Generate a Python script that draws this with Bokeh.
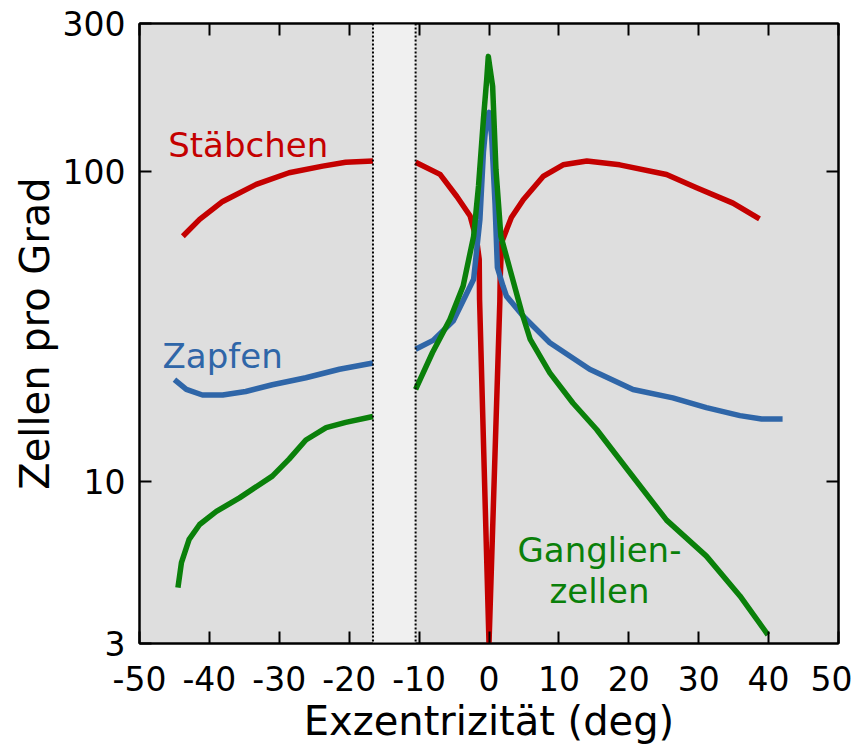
from bokeh.plotting import figure
from bokeh.models import (Range1d, LinearAxis, LogAxis, FixedTicker, PrintfTickFormatter,
                          BoxAnnotation, Span, CustomLabelingPolicy)
from bokeh.core.properties import value
from bokeh.embed import file_html
from bokeh.resources import INLINE

# ---------------- data ----------------
x_ticks = [-50, -40, -30, -20, -10, 0, 10, 20, 30, 40, 50]
y_ticks = [3, 10, 100, 300]
blind_spot = [-16.6, -10.5]

# Stäbchen (rods)
rod_left_x = [-43.8, -41.4, -38.1, -33.3, -28.6, -23.8, -20.5, -16.6]
rod_left_y = [61.8, 70, 80, 90.8, 99, 104, 107, 108]
rod_right_x = [-10.5, -7.0, -4.6, -2.7, -1.76, -1.4, -1.35, 0.0, 1.55, 1.6, 1.8, 3.2, 4.9,
               7.8, 10.6, 14.0, 18.7, 25.4, 29.7, 34.9, 38.7]
rod_right_y = [107, 97.8, 83, 71.8, 60, 52, 38.6, 3.0, 38, 45, 59, 71, 81,
               96.6, 105, 108, 105, 97.7, 88.5, 79, 70.3]

# Zapfen (cones)
cone_left_x = [-45.0, -43.3, -41.0, -38.1, -34.8, -31.0, -26.2, -21.4, -16.6]
cone_left_y = [21.3, 19.8, 19.0, 19.0, 19.5, 20.5, 21.6, 23.0, 24.1]
cone_right_x = [-10.5, -8.0, -5.1, -2.2, -1.3, -0.8, -0.33, 0.0, 0.38, 0.86, 1.2, 2.0, 2.5,
                4.9, 8.7, 14.4, 20.6, 26.3, 31.1, 35.9, 39.0, 42.0]
cone_right_y = [26.7, 28.5, 33.0, 44.9, 70, 115, 150, 155, 130, 79, 49, 42.7, 39.6,
                34.1, 28.0, 23.0, 19.8, 18.6, 17.3, 16.3, 15.9, 15.9]

# Ganglienzellen (ganglion cells)
gang_left_x = [-44.5, -44.0, -42.9, -41.4, -39.0, -35.7, -31.0, -28.6, -26.2, -23.3, -20.5, -16.6]
gang_left_y = [4.54, 5.47, 6.5, 7.26, 8.0, 8.85, 10.4, 11.8, 13.6, 14.9, 15.5, 16.2]
gang_right_x = [-10.5, -8.1, -5.6, -3.7, -2.2, -1.5, -0.8, -0.33, -0.1, 0.52, 1.0, 1.7,
                3.0, 4.7, 5.9, 8.7, 12.0, 15.4, 20.1, 25.4, 31.1, 35.9, 39.9]
gang_right_y = [19.8, 26, 33.3, 42.7, 61.8, 89.7, 147, 198, 235, 188, 101, 61.8,
                48.3, 35, 28.7, 22.4, 17.9, 14.7, 10.7, 7.5, 5.74, 4.27, 3.2]

labels = ["Stäbchen", "Zapfen", "Ganglien-", "zellen"]

RED = "#c40000"
BLUE = "#2f66a8"
GREEN = "#0a800a"
FONT = "DejaVu Sans"

p = figure(width=852, height=746, x_range=Range1d(-50, 50), y_range=Range1d(3, 300),
           y_axis_type="log", output_backend="svg", toolbar_location=None,
           min_border_left=139, min_border_top=23, min_border_right=14, min_border_bottom=100)

p.background_fill_color = "#dedede"
p.border_fill_color = "white"
p.outline_line_color = "black"
p.outline_line_width = 2
p.grid.visible = False

# blind spot band
p.add_layout(BoxAnnotation(left=blind_spot[0], right=blind_spot[1], fill_color="#f0f0f0",
                           fill_alpha=1.0, line_color=None, level="underlay"))
for loc in blind_spot:
    p.add_layout(Span(location=loc, dimension="height", line_color="black",
                      line_width=2, line_dash="2 2"))

lw = 5.5
for xs, ys, c in [(rod_left_x, rod_left_y, RED), (rod_right_x, rod_right_y, RED),
                  (cone_left_x, cone_left_y, BLUE), (cone_right_x, cone_right_y, BLUE),
                  (gang_left_x, gang_left_y, GREEN), (gang_right_x, gang_right_y, GREEN)]:
    p.line(xs, ys, line_color=c, line_width=lw, line_join="round")

# curve labels
p.text(x=[-45.9], y=[121.4], text=[labels[0]], text_color=RED, text_font=value(FONT),
       text_font_size="34px", text_align="left", text_baseline="alphabetic")
p.text(x=[-46.7], y=[25.3], text=[labels[1]], text_color=BLUE, text_font=value(FONT),
       text_font_size="34px", text_align="left", text_baseline="alphabetic")
p.text(x=[15.8, 15.8], y=[6.03, 4.43], text=labels[2:], text_color=GREEN, text_font=value(FONT),
       text_font_size="34px", text_align="center", text_baseline="alphabetic")

# axes
xa = p.xaxis[0]
xa.ticker = FixedTicker(ticks=x_ticks)
xa.formatter = PrintfTickFormatter(format="%d")
xa.axis_label = "Exzentrizität (deg)"
ya = p.yaxis[0]
ya.ticker = FixedTicker(ticks=y_ticks)
ya.formatter = PrintfTickFormatter(format="%d")
ya.axis_label = "Zellen pro Grad"

hide = CustomLabelingPolicy(code="for (const i of indices) { indices.unset(i) }")
top = LinearAxis(ticker=FixedTicker(ticks=x_ticks), major_label_policy=hide)
right = LogAxis(ticker=FixedTicker(ticks=[10, 100]), major_label_policy=hide)
p.add_layout(top, "above")
p.add_layout(right, "right")

for ax in [xa, ya, top, right]:
    ax.axis_line_color = "black"
    ax.axis_line_width = 2
    ax.major_tick_in = 12
    ax.major_tick_out = 0
    ax.major_tick_line_width = 2
    ax.major_tick_line_color = "black"
    ax.minor_tick_line_color = None
    ax.major_label_text_font = FONT
    ax.major_label_text_font_size = "33px"
    ax.major_label_text_color = "black"
    ax.axis_label_text_font = FONT
    ax.axis_label_text_font_size = "40px"
    ax.axis_label_text_font_style = "normal"
    ax.axis_label_text_color = "black"

for ax in [top, right]:
    ax.major_label_text_font_size = "1px"
    ax.major_label_standoff = 0

xa.major_label_standoff = 22
xa.axis_label_standoff = 4
ya.major_label_standoff = 14
ya.axis_label_standoff = 2

open("out.html", "w").write(file_html(p, INLINE))
